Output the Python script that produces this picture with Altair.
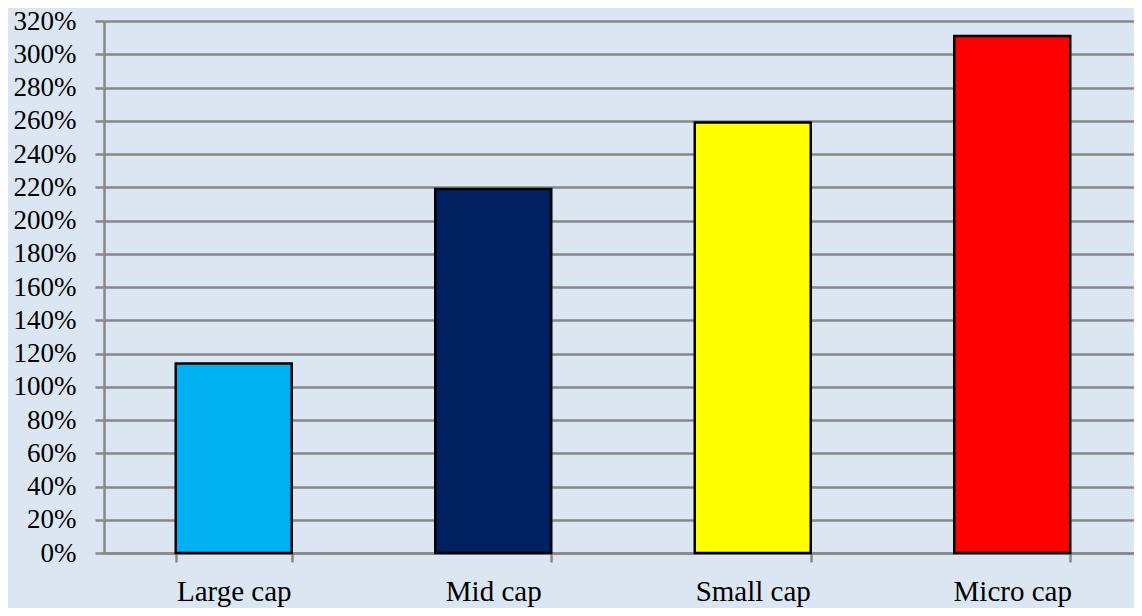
import altair as alt
import pandas as pd

categories = ["Large cap", "Mid cap", "Small cap", "Micro cap"]
values = [114, 219, 259, 311]
colors = ["#00B0F0", "#002060", "#FFFF00", "#FF0000"]
y_ticks = list(range(0, 321, 20))

df = pd.DataFrame({"cat": categories, "val": values, "color": colors})

bg = "#DCE6F2"
grid_col = "#888888"
serif = "Liberation Serif, Times New Roman, DejaVu Serif, serif"

chart = alt.Chart(df).mark_bar(stroke="black", strokeWidth=2.5).encode(
    x=alt.X("cat:N", sort=categories, title=None,
            scale=alt.Scale(paddingInner=0.553, paddingOuter=0.2765, range=[0, 1038]),
            axis=alt.Axis(labelAngle=0, labelFont=serif, labelFontSize=29,
                          labelColor="black", labelPadding=15, tickBand="extent",
                          tickSize=9, tickColor=grid_col, tickWidth=2.5,
                          domainColor=grid_col, domainWidth=2.5, grid=False)),
    y=alt.Y("val:Q", title=None,
            scale=alt.Scale(domain=[0, 320], nice=False),
            axis=alt.Axis(values=y_ticks, labelExpr="datum.value + '%'",
                          labelFont=serif, labelFontSize=27, labelColor="black",
                          labelPadding=19, tickSize=9, tickColor=grid_col, tickWidth=2.5,
                          domainColor=grid_col, domainWidth=2.5,
                          grid=True, gridColor=grid_col, gridWidth=2.5, gridOpacity=1)),
    color=alt.Color("color:N", scale=None, legend=None),
).properties(
    width=1030, height=532,
    padding={"left": 96, "top": 13, "right": 0, "bottom": 55},
    autosize="none",
    background=bg,
).configure_view(fill=bg, stroke=None)

chart.save("out.html", embed_options={"renderer": "svg", "actions": False})
